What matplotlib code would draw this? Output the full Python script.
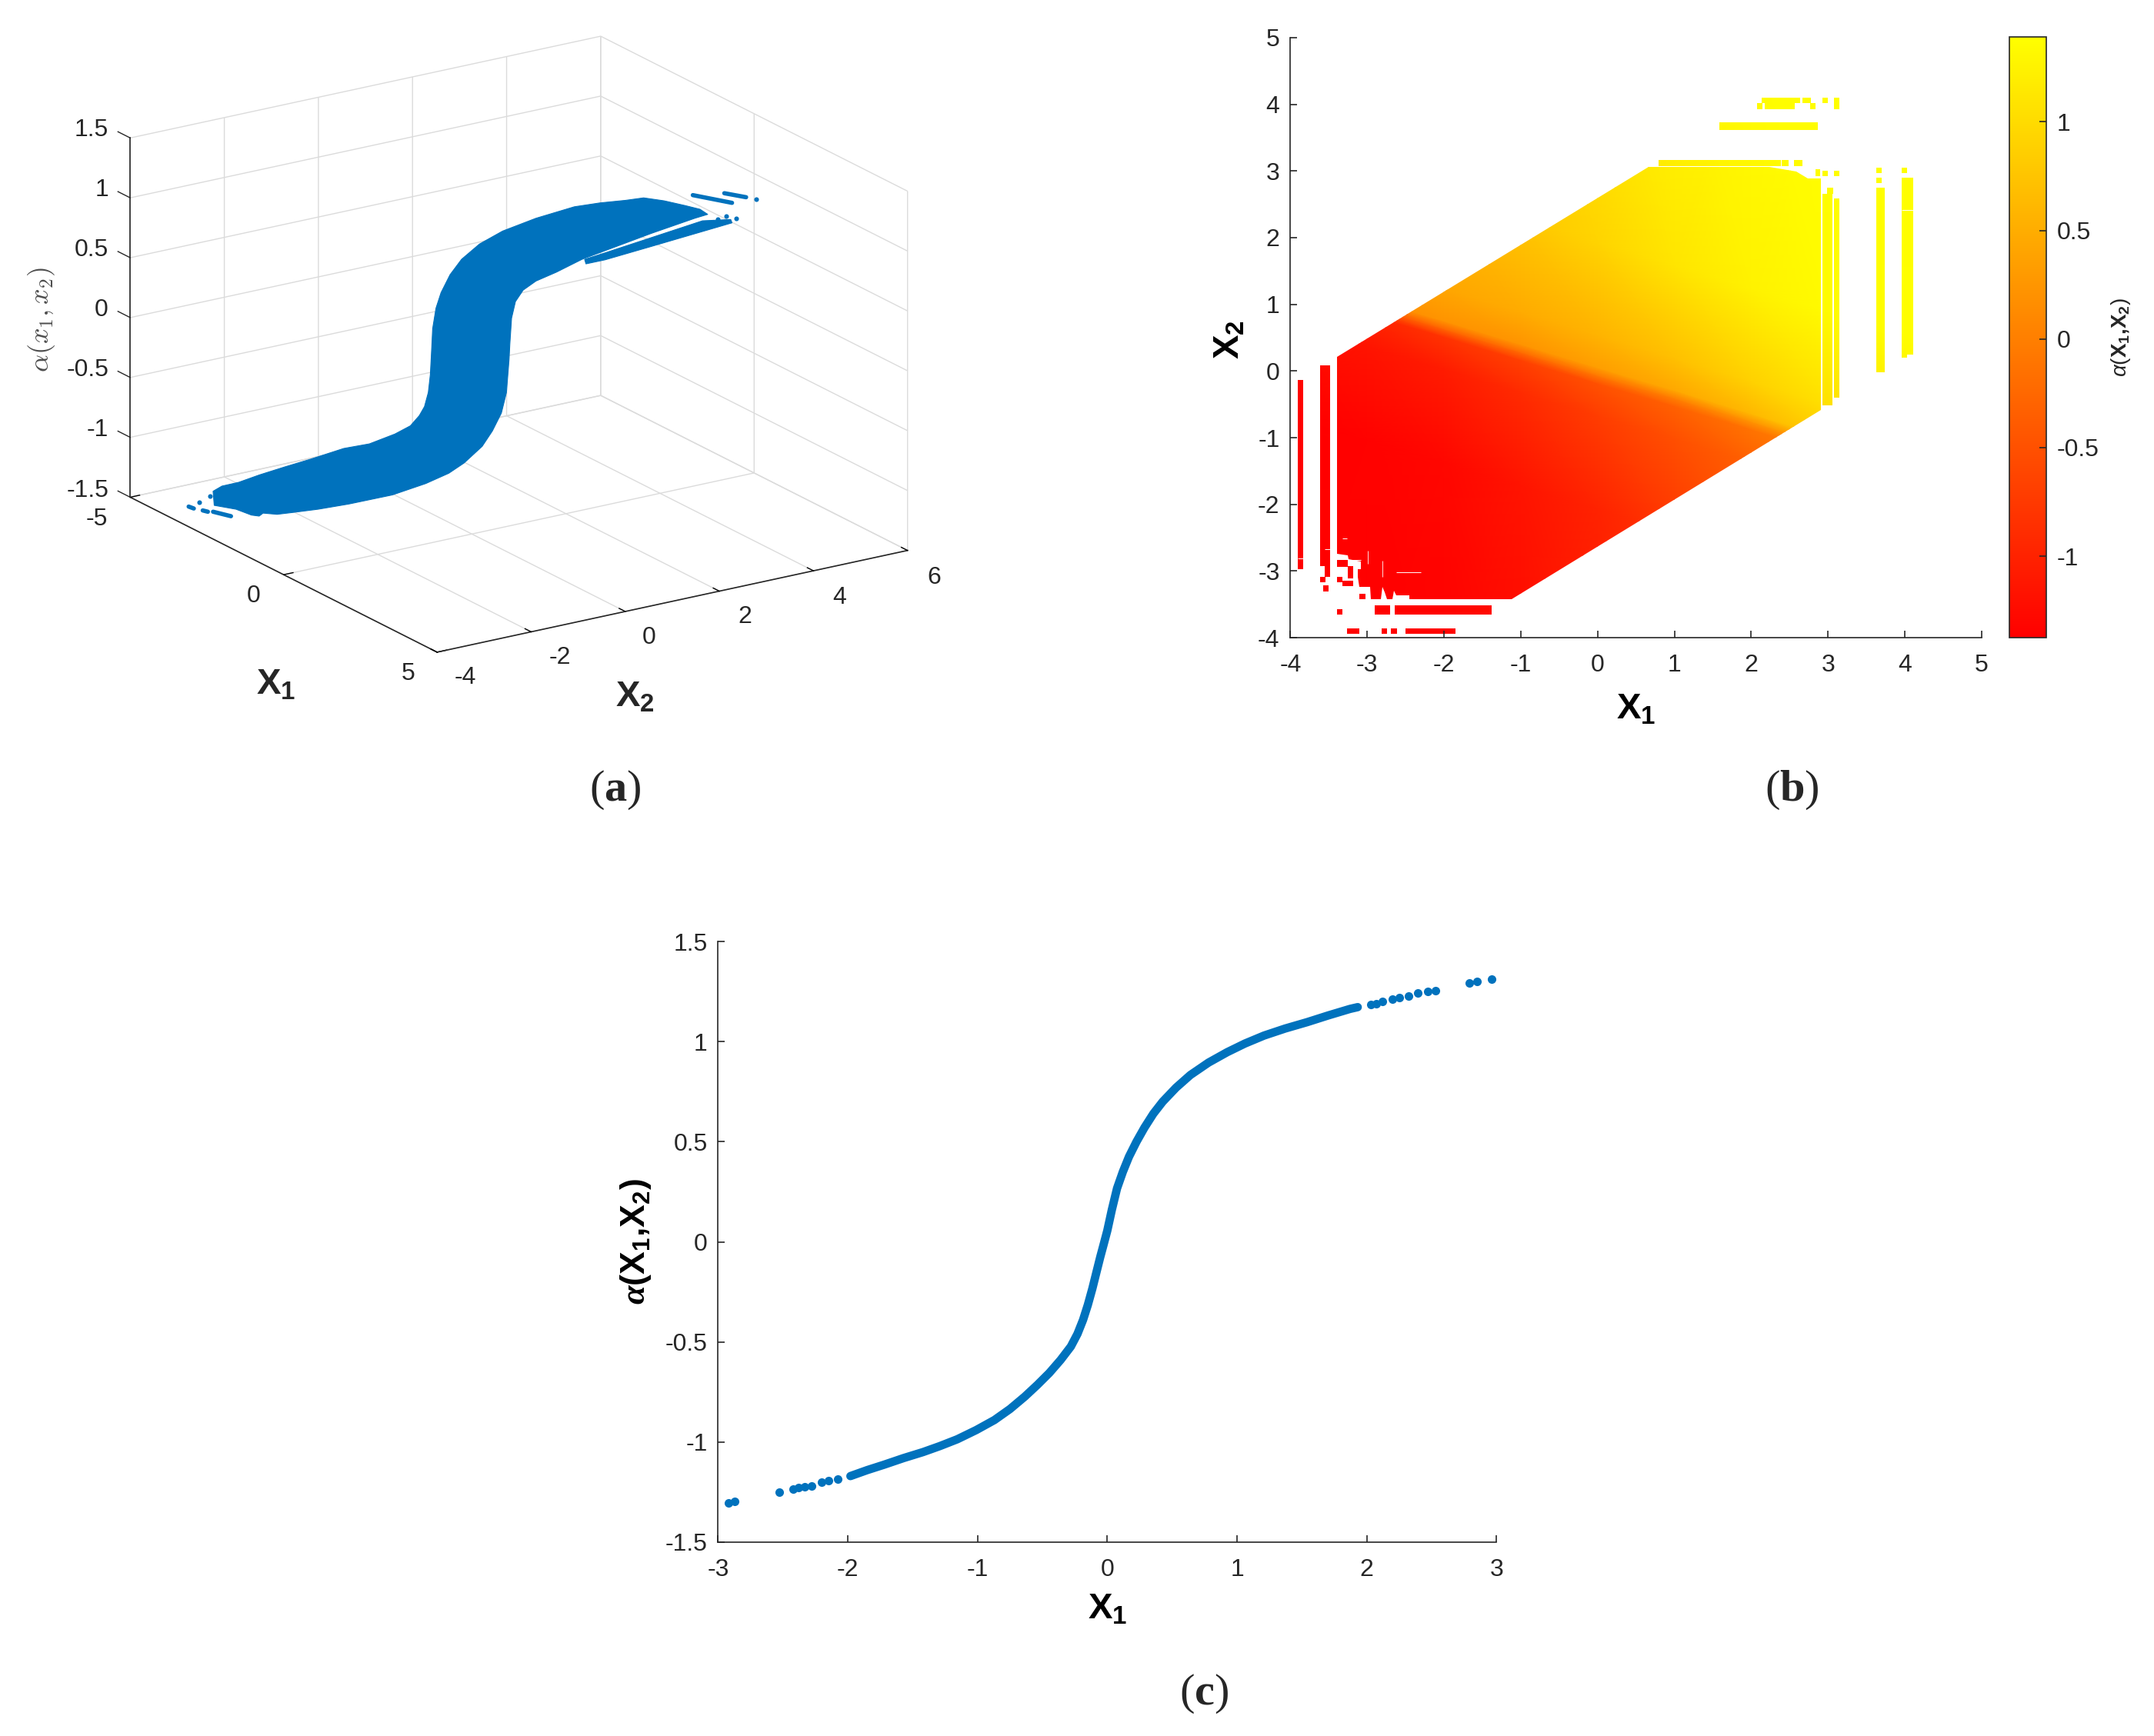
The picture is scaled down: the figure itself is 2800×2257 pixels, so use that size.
"""Three panel figure: (a) 3D scatter of alpha, (b) colour map over X1/X2, (c) alpha against X1."""
import matplotlib

matplotlib.use("Agg")
import matplotlib.pyplot as plt
import numpy as np
from matplotlib.path import Path
from mpl_toolkits.mplot3d.art3d import Poly3DCollection

plt.rcParams["font.family"] = ["Liberation Sans", "DejaVu Sans"]
plt.rcParams["font.size"] = 11.5
plt.rcParams["axes.unicode_minus"] = False
plt.rcParams["mathtext.fontset"] = "custom"
plt.rcParams["mathtext.rm"] = "Liberation Sans"
plt.rcParams["mathtext.it"] = "Liberation Sans:italic"
plt.rcParams["mathtext.bf"] = "Liberation Sans:bold"
plt.rcParams["mathtext.bfit"] = "Liberation Serif:italic:bold"
plt.rcParams["mathtext.cal"] = "Liberation Serif:bold"
plt.rcParams["mathtext.fallback"] = "cm"
plt.rcParams["grid.color"] = "0.86"
plt.rcParams["grid.linewidth"] = 0.5

BLUE = "#0072BD"
DARK = "0.15"

# (a) outline of the dense blue band, taken along the diagonal x1 = x2 of the domain
band_t = [-3.314, -3.329, -3.215, -3.0, -2.736, -2.407, -2.077, -1.648, -1.318, -0.989, -0.791, -0.676, -0.609, -0.56, -0.534,
          -0.52, -0.504, -0.461, -0.396, -0.28, -0.132, 0.099, 0.396, 0.825, 1.319, 1.649, 1.978, 2.21, 2.473, 2.737, 2.935,
          3.034, 2.868, 2.309, 1.682, 1.418, 1.088, 0.825, 0.66, 0.561, 0.511, 0.489, 0.479, 0.445, 0.38, 0.264, 0.133, -0.099,
          -0.297, -0.593, -1.022, -1.583, -1.978, -2.308, -2.505, -2.686, -2.736, -2.835, -3.033]
band_alpha = [-1.408, -1.291, -1.243, -1.202, -1.129, -1.047, -0.968, -0.859, -0.806, -0.709, -0.632, -0.542, -0.463, -0.343,
              -0.193, -0.021, 0.193, 0.366, 0.498, 0.653, 0.788, 0.926, 1.047, 1.173, 1.291, 1.338, 1.374, 1.405, 1.392, 1.365,
              1.342, 1.304, 1.264, 1.113, 0.933, 0.857, 0.735, 0.649, 0.566, 0.466, 0.325, 0.109, -0.019, -0.299, -0.473, -0.628,
              -0.762, -0.911, -1.006, -1.105, -1.219, -1.32, -1.381, -1.423, -1.447, -1.445, -1.472, -1.468, -1.428]
sliver_t = [1.451, 1.715, 2.967, 3.33, 3.347, 2.309, 1.715, 1.468]
sliver_alpha = [0.858, 0.924, 1.247, 1.274, 1.247, 1.004, 0.866, 0.821]

# (a) detached runs and single points
run_t = [[2.843, 3.347], [3.248, 3.528], [-3.643, -3.577], [-3.462, -3.396], [-3.329, -3.099]]
run_alpha = [[1.456, 1.414], [1.49, 1.469], [-1.433, -1.446], [-1.457, -1.465], [-1.462, -1.489]]
stray_t = [3.66, 3.165, 3.271, 3.397, -3.511, -3.369]
stray_alpha = [1.455, 1.272, 1.297, 1.288, -1.389, -1.336]

# (a) tick labels
x_labels = ["-5", "0", "5"]
y_labels = ["-4", "-2", "0", "2", "4", "6"]
z_labels = ["-1.5", "-1", "-0.5", "0", "0.5", "1", "1.5"]
x_ticks = [-5, 0, 5]
y_ticks = [-4, -2, 0, 2, 4, 6]
z_ticks = [-1.5, -1, -0.5, 0, 0.5, 1, 1.5]

# (b) alpha read on columns of X1, rows given as offsets from the steep line
map_x1 = [-4.0, -3.0, -2.0, -1.0, 0.0, 1.0, 2.0, 3.0, 4.2]
steep_x2 = [1.32, 0.97, 0.63, 0.28, -0.07, -0.41, -0.76, -1.11, -1.52]
row_offset = [-6.0, -2.0, -0.6, -0.12, 0.0, 0.12, 0.6, 2.0, 6.0]
map_alpha = [
    [-1.375, -1.375, -1.375, -1.29, -1.15, -0.90, -0.63, -0.41, -0.41],
    [-1.375, -1.35, -1.29, -1.15, -0.99, -0.77, -0.55, -0.32, -0.32],
    [-1.24, -1.15, -1.07, -0.90, -0.71, -0.52, -0.32, -0.13, -0.13],
    [-1.10, -0.96, -0.82, -0.68, -0.49, -0.32, -0.13, 0.0, 0.0],
    [-0.55, -0.41, -0.27, -0.21, -0.075, 0.0, 0.23, 0.42, 0.56],
    [0.0, 0.15, 0.23, 0.23, 0.34, 0.45, 0.62, 0.84, 0.98],
    [0.285, 0.34, 0.42, 0.48, 0.56, 0.70, 0.89, 1.06, 1.17],
    [0.45, 0.56, 0.64, 0.78, 0.92, 1.11, 1.25, 1.34, 1.39],
    [0.70, 0.84, 0.98, 1.11, 1.25, 1.39, 1.39, 1.39, 1.39],
]
alpha_lo, alpha_hi = -1.375, 1.391
bar_ticks = [-1, -0.5, 0, 0.5, 1]
bar_labels = ["-1", "-0.5", "0", "0.5", "1"]

# (b) occupied region: main block outline, then rectangular runs of cells
block_x1 = [-3.396, -3.396, -3.256, -3.24, -3.079, -3.079, -3.123, -3.123, -3.10, -2.967, -2.95, -2.822, -2.806, -2.772, -2.745,
            -2.672, -2.655, -2.622, -2.455, -2.449, -1.12, 2.91, 2.91, 2.735, 2.585, 2.235, 0.66]
block_x2 = [0.21, -2.742, -2.761, -2.819, -2.858, -2.973, -2.973, -3.088, -3.242, -3.242, -3.427, -3.427, -3.242, -3.319, -3.427,
            -3.427, -3.30, -3.365, -3.365, -3.427, -3.427, -0.585, 2.89, 2.89, 2.99, 3.066, 3.066]
cell_left = [-3.396, -3.256, -3.396, -3.323, -3.10, -3.573, -3.617, -3.396,
             -2.90, -2.64, -3.263, -2.81, -2.69, -2.50, -3.907, -3.616, -3.55,
             2.93, 3.08, 3.63, 3.96, 3.96, 3.63, 3.63, 3.96, 3.08, 2.93, 2.84, 2.99,
             2.135, 2.67, 2.93, 3.08, 2.08, 2.175, 2.30, 2.77, 1.585, 0.79, 2.25, 2.40, 2.56]
cell_right = [-3.256, -3.18, -3.323, -3.18, -3.023, -3.5, -3.54, -3.323,
              -2.70, -1.38, -3.10, -2.74, -2.615, -1.855, -3.83, -3.55, -3.483,
              3.06, 3.15, 3.74, 4.11, 4.03, 3.70, 3.70, 4.03, 3.15, 3.0, 2.90, 3.07,
              2.635, 2.776, 3.0, 3.15, 2.15, 2.295, 2.57, 2.84, 2.87, 2.25, 2.39, 2.49, 2.67]
cell_low = [-2.935, -3.108, -3.165, -3.231, -3.427, -3.31, -3.165, -3.65,
            -3.65, -3.65, -3.94, -3.94, -3.94, -3.94, -2.97, -2.93, -3.09,
            -0.51, -0.40, -0.02, 0.25, 0.20, 2.97, 2.816, 2.97, 2.92, 2.92, 2.92, 2.66,
            4.02, 4.02, 4.02, 3.93, 3.93, 3.93, 3.93, 3.93, 3.62, 3.075, 3.075, 3.075, 3.075]
cell_high = [-2.838, -2.927, -3.088, -3.146, -3.338, -3.22, -3.088, -3.57,
             -3.51, -3.51, -3.86, -3.86, -3.86, -3.86, -0.134, 0.085, 0.085,
             2.66, 2.59, 2.75, 2.90, 0.25, 3.054, 2.90, 3.054, 3.0, 3.0, 3.03, 2.75,
             4.10, 4.10, 4.10, 4.10, 4.02, 4.02, 4.02, 4.02, 3.73, 3.16, 3.16, 3.16, 3.16]

# (b) thin empty lines inside the filled cells
gap_h_x2 = [-2.838, -3.019, -2.81, -2.673, 2.41, -2.51]
gap_h_left = [-3.256, -2.62, -3.907, -3.55, 3.96, -3.323]
gap_h_right = [-3.079, -2.305, -3.83, -3.483, 4.11, -3.26]
gap_v_x1 = [-2.989, -2.806]
gap_v_low = [-2.896, -3.088]
gap_v_high = [-2.70, -2.85]

# (c) dense part of the curve, then the separate points at both ends
curve_x1 = [-1.98, -1.85, -1.72, -1.57, -1.42, -1.29, -1.156, -1.01, -0.87, -0.75, -0.636, -0.54, -0.447, -0.36, -0.281, -0.23,
            -0.187, -0.15, -0.115, -0.085, -0.054, -0.027, 0.0, 0.035, 0.075, 0.12, 0.167, 0.225, 0.286, 0.355, 0.427, 0.53, 0.64,
            0.78, 0.924, 1.06, 1.208, 1.37, 1.54, 1.7, 1.87, 1.93]
curve_alpha = [-1.17, -1.14, -1.113, -1.08, -1.05, -1.02, -0.986, -0.94, -0.89, -0.835, -0.773, -0.715, -0.655, -0.59, -0.523,
               -0.46, -0.39, -0.315, -0.233, -0.155, -0.075, -0.01, 0.056, 0.16, 0.267, 0.35, 0.425, 0.5, 0.57, 0.64, 0.70, 0.77,
               0.833, 0.895, 0.947, 0.99, 1.03, 1.065, 1.097, 1.13, 1.163, 1.172]
tail_x1 = [-2.92, -2.87, -2.53, -2.42, -2.38, -2.33, -2.28, -2.2, -2.15, -2.08, 2.03, 2.07, 2.12, 2.2, 2.25, 2.32, 2.39, 2.47,
           2.53, 2.79, 2.85, 2.96]
tail_alpha = [-1.305, -1.297, -1.252, -1.234, -1.228, -1.222, -1.218, -1.2, -1.192, -1.185, 1.184, 1.19, 1.2, 1.21, 1.22, 1.228,
              1.242, 1.25, 1.255, 1.294, 1.30, 1.313]

WIDTH, HEIGHT = 2800, 2257


def box(left, top, right, bottom):
    """Figure-fraction rectangle from pixel edges of the 2800x2257 canvas."""
    return [left / WIDTH, 1 - bottom / HEIGHT, (right - left) / WIDTH, (bottom - top) / HEIGHT]


def label(fig, x, y, text, **kwargs):
    kwargs.setdefault("ha", "center")
    fig.text(x / WIDTH, 1 - y / HEIGHT, text, va="center", color=DARK, **kwargs)


def style_2d(ax):
    ax.spines["top"].set_visible(False)
    ax.spines["right"].set_visible(False)
    for side in ("left", "bottom"):
        ax.spines[side].set_color(DARK)
        ax.spines[side].set_linewidth(0.6)
    ax.tick_params(direction="in", length=3.2, width=0.6, color=DARK, labelcolor=DARK, pad=5)
    ax.tick_params(axis="x", pad=7.5)


def rect_path(left, right, low, high):
    return Path([(left, low), (right, low), (right, high), (left, high), (left, low)], closed=True)


fig = plt.figure(figsize=(14, 11.285), dpi=200)

# (a)
ax = fig.add_axes(box(104, -93, 1215, 1018), projection="3d", proj_type="ortho")
ax.set_box_aspect((728.6, 731.0, 495.0))
ax.view_init(elev=19.3, azim=-33.2)
ax.patch.set_alpha(0)
ax.set_xlim(-5, 5)
ax.set_ylim(-4, 6)
ax.set_zlim(-1.5, 1.5)
verts = [list(zip(band_t, band_t, band_alpha)), list(zip(sliver_t, sliver_t, sliver_alpha))]
ax.add_collection3d(Poly3DCollection(verts, facecolor=BLUE, edgecolor=BLUE, linewidth=0.4))
for ts, zs in zip(run_t, run_alpha):
    ax.plot(ts, ts, zs, color=BLUE, lw=2.0, solid_capstyle="round")
ax.plot(stray_t, stray_t, stray_alpha, ls="none", marker="o", ms=2.2, mew=0, color=BLUE)
ax.set_xticks(x_ticks)
ax.set_yticks(y_ticks)
ax.set_zticks(z_ticks)
ax.set_xticklabels([])
ax.set_yticklabels([])
ax.set_zticklabels([])
for axis in (ax.xaxis, ax.yaxis, ax.zaxis):
    axis.set_pane_color((1, 1, 1, 0))
    axis.pane.set_edgecolor("0.86")
    axis.line.set_color(DARK)
    axis.line.set_linewidth(0.6)
    axis._axinfo["tick"]["inward_factor"] = 0.0
    axis._axinfo["tick"]["outward_factor"] = 0.25
    axis._axinfo["tick"]["linewidth"] = {True: 0.5, False: 0.5}
    axis._axinfo["tick"]["color"] = DARK

# the vertical axis belongs on the left corner, mplot3d keeps it on the right one
ax.zaxis.line.set_visible(False)
ax.zaxis._axinfo["tick"]["linewidth"] = {True: 0, False: 0}
ax.plot([-5, -5], [-4, -4], [-1.5, 1.5], color=DARK, lw=0.6)
for z in z_ticks:
    ax.plot([-5, -5.4], [-4, -4], [z, z], color=DARK, lw=0.5)

for (x, y), text in zip([(126, 675), (330, 775), (531, 876)], x_labels):
    label(fig, x, y, text)
for (x, y), text in zip([(605, 881), (728, 855), (844, 829), (968, 802), (1091, 777), (1214, 751)], y_labels):
    label(fig, x, y, text)
for y, text in zip([638, 559, 481, 403, 325, 247, 169], z_labels):
    label(fig, 141, y, text, ha="right")
label(fig, 359, 890, r"$\mathbf{X_1}$", fontsize=17)
label(fig, 825, 907, r"$\mathbf{X_2}$", fontsize=17)
fig.text(54 / WIDTH, 1 - 415 / HEIGHT, r"$\alpha(x_1,x_2)$", rotation=90, ha="center", va="center", color="0.3",
         fontsize=13, math_fontfamily="cm")
label(fig, 800, 1027, r"($\mathcal{a}$)", fontsize=21, family="Liberation Serif")

# (b)
ax = fig.add_axes(box(1677.4, 49, 2576, 829))
mesh_x = np.tile(np.array(map_x1), (len(row_offset), 1))
mesh_y = np.array(steep_x2)[None, :] + np.array(row_offset)[:, None]
mesh = ax.pcolormesh(mesh_x, mesh_y, np.array(map_alpha), shading="gouraud", cmap="autumn", vmin=alpha_lo, vmax=alpha_hi)
parts = [Path(list(zip(block_x1 + block_x1[:1], block_x2 + block_x2[:1])), closed=True)]
for cell in zip(cell_left, cell_right, cell_low, cell_high):
    parts.append(rect_path(*cell))
mesh.set_clip_path(Path.make_compound_path(*parts), ax.transData)
ax.hlines(gap_h_x2, gap_h_left, gap_h_right, color="white", lw=0.35)
ax.vlines(gap_v_x1, gap_v_low, gap_v_high, color="white", lw=0.3)
ax.set_xlim(-4, 5)
ax.set_ylim(-4, 5)
ax.set_xticks(range(-4, 6))
ax.set_yticks(range(-4, 6))
style_2d(ax)
ax.set_xlabel(r"$\mathbf{X_1}$", fontsize=17)
ax.xaxis.set_label_coords(0.5, -0.092)
ax.set_ylabel(r"$\mathbf{X_2}$", fontsize=17)
ax.yaxis.set_label_coords(-0.063, 0.497)

cax = fig.add_axes(box(2612, 48, 2660, 829))
bar = fig.colorbar(mesh, cax=cax, ticks=bar_ticks)
bar.ax.set_yticklabels(bar_labels)
bar.ax.tick_params(direction="in", length=3.2, width=0.6, color=DARK, labelcolor=DARK, pad=5)
bar.outline.set_edgecolor(DARK)
bar.outline.set_linewidth(0.6)
bar.set_label(r"$\alpha(\mathbf{X_1{,}X_2})$", fontsize=10, color=DARK)
cax.yaxis.set_label_coords(2.7, 0.5)
label(fig, 2329, 1027, r"($\mathcal{b}$)", fontsize=21, family="Liberation Serif")

# (c)
ax = fig.add_axes(box(933.4, 1224, 1945.4, 2005))
ax.plot(curve_x1, curve_alpha, color=BLUE, lw=3.9, solid_capstyle="round")
ax.plot(tail_x1, tail_alpha, ls="none", marker="o", ms=4.0, mew=0, color=BLUE)
ax.set_xlim(-3, 3)
ax.set_ylim(-1.5, 1.5)
ax.set_xticks(range(-3, 4))
ax.set_yticks(z_ticks)
ax.set_yticklabels(z_labels)
style_2d(ax)
ax.set_xlabel(r"$\mathbf{X_1}$", fontsize=17)
ax.xaxis.set_label_coords(0.5, -0.084)
ax.set_ylabel(r"$\mathbfit{α}\mathbf{(X_1{,}X_2)}$", fontsize=16)
ax.yaxis.set_label_coords(-0.083, 0.5)
label(fig, 1565, 2202, r"($\mathcal{c}$)", fontsize=21, family="Liberation Serif")

fig.savefig("out.png", dpi=200)
